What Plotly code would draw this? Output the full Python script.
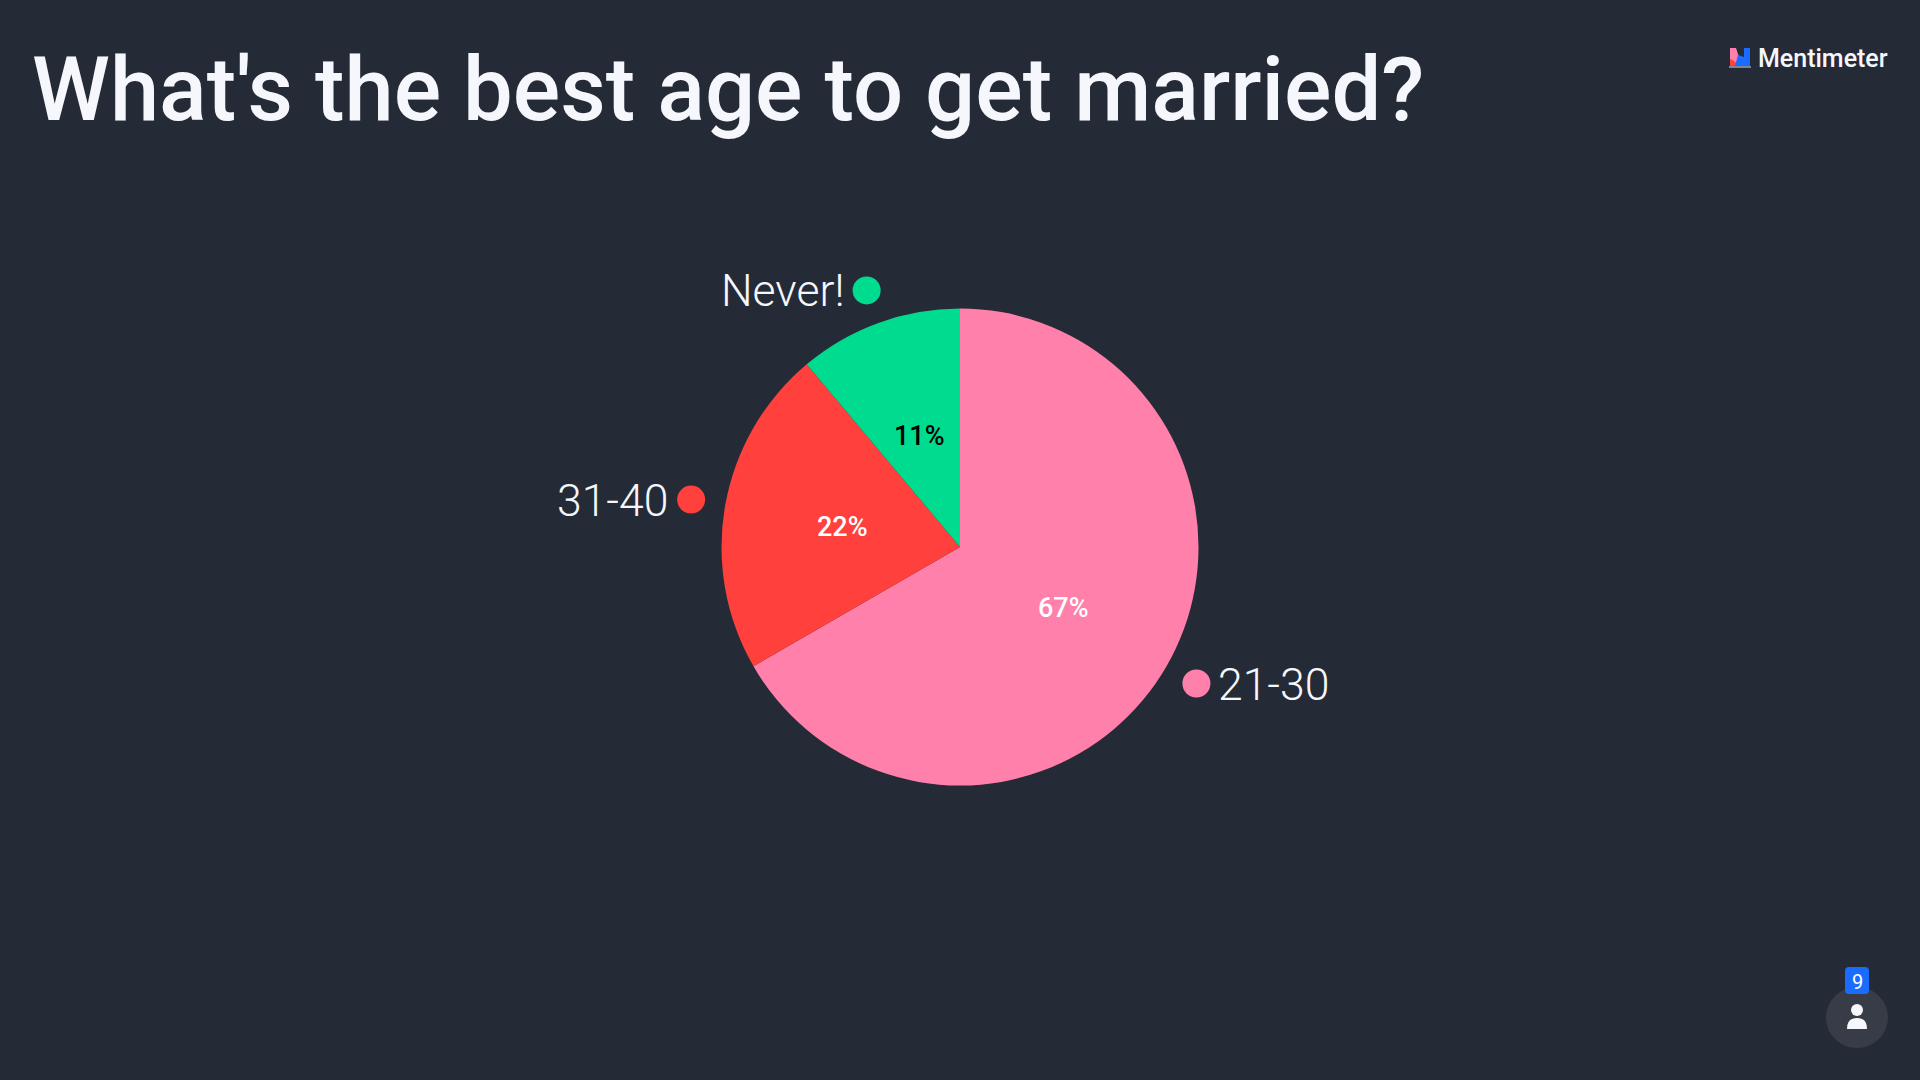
import math
import plotly.graph_objects as go

TITLE = "What's the best age to get married?"
BRAND = "Mentimeter"
categories = ["21-30", "31-40", "Never!"]
votes = [6, 2, 1]
percent_labels = ["67%", "22%", "11%"]
slice_colors = ["#FF80AB", "#FF403D", "#00DC8F"]
percent_colors = ["#FFFFFF", "#FFFFFF", "#000000"]
voter_count = "9"

BG = "#252B36"
INK = "#F5F7FC"
FONT = "Roboto"
CX, CY, R = 960, 547, 238.5
DOT_R = 14
DOT_DIST = 273
W, H = 1920, 1080


def polar(value_mid, dist):
    a = 2 * math.pi * value_mid
    return CX + dist * math.sin(a), CY - dist * math.cos(a)


fig = go.Figure()
fig.add_trace(go.Pie(
    labels=categories, values=votes, sort=False, direction="clockwise", rotation=0,
    marker=dict(colors=slice_colors, line=dict(width=0)),
    textinfo="none", hoverinfo="label+percent", showlegend=False,
    domain=dict(x=[(CX - R) / W, (CX + R) / W], y=[1 - (CY + R) / H, 1 - (CY - R) / H]),
))

shapes, ann = [], []
total = sum(votes)
cum = 0
dots_x, dots_y = [], []
for cat, v, col, pl, pc in zip(categories, votes, slice_colors, percent_labels, percent_colors):
    mid = (cum + v / 2) / total
    cum += v
    dx, dy = polar(mid, DOT_DIST)
    dots_x.append(dx)
    dots_y.append(dy)
    right = dx > CX
    ann.append(dict(x=dx + DOT_R + 6 if right else dx - DOT_R - 6, y=dy + 1, text=cat, showarrow=False,
                    xanchor="left" if right else "right", yanchor="middle",
                    font=dict(family=FONT, size=44.5, color=INK, weight=300)))
    px, py = polar(mid, R / 2)
    ann.append(dict(x=px, y=py + 1, text=pl, showarrow=False, xanchor="center", yanchor="middle",
                    font=dict(family=FONT, size=27, color=pc, weight=500)))

fig.add_trace(go.Scatter(x=dots_x, y=dots_y, mode="markers", showlegend=False, hoverinfo="skip",
                         marker=dict(size=2 * DOT_R, color=slice_colors, line=dict(width=0))))

ann.append(dict(x=30, y=90, text=TITLE, showarrow=False, xanchor="left", yanchor="middle",
                font=dict(family=FONT, size=88.5, color=INK, weight=500)))
ann.append(dict(x=1756, y=58, text=BRAND, showarrow=False, xanchor="left", yanchor="middle",
                font=dict(family=FONT, size=25, color=INK, weight=500)))

# Mentimeter logo
shapes.extend([
    dict(type="path", path="M1730 48 L1736 48 L1742 66 L1730 66 Z", fillcolor="#FF80AB", line_width=0),
    dict(type="path", path="M1730 59 Q1736 61 1738 66 L1730 66 Z", fillcolor="#FF403D", line_width=0),
    dict(type="path", path="M1735 66 L1738 55 L1744 57 L1744 48 L1750 48 L1750 66 Z", fillcolor="#196CFF", line_width=0),
    dict(type="line", x0=1729, x1=1751, y0=67, y1=67, line=dict(color="#D8DCE6", width=1)),
])
# Voter badge
shapes.extend([
    dict(type="circle", x0=1826, x1=1888, y0=987, y1=1048, fillcolor="#373C47", line_width=0),
    dict(type="path", path="M1849 967 L1865 967 Q1869 967 1869 971 L1869 990 Q1869 994 1865 994 L1849 994 Q1845 994 1845 990 L1845 971 Q1845 967 1849 967 Z",
         fillcolor="#196CFF", line_width=0),
    dict(type="circle", x0=1851, x1=1863, y0=1004, y1=1016, fillcolor=INK, line_width=0),
    dict(type="path", path="M1847 1029 Q1847 1018 1857 1018 Q1867 1018 1867 1029 Z", fillcolor=INK, line_width=0),
])
ann.append(dict(x=1857, y=982, text=voter_count, showarrow=False, xanchor="center", yanchor="middle",
                font=dict(family=FONT, size=20, color="#FFFFFF", weight=400)))

for s in shapes:
    s.update(xref="x", yref="y")
for a in ann:
    a.update(xref="x", yref="y")

fig.update_layout(
    width=W, height=H, margin=dict(l=0, r=0, t=0, b=0),
    paper_bgcolor=BG, plot_bgcolor=BG,
    xaxis=dict(range=[0, W], visible=False, fixedrange=True),
    yaxis=dict(range=[H, 0], visible=False, fixedrange=True),
    shapes=shapes, annotations=ann,
)
fig.write_html("out.html", config=dict(displayModeBar=False),
               post_script="document.body.style.margin='0';document.body.style.background='%s';" % BG)
